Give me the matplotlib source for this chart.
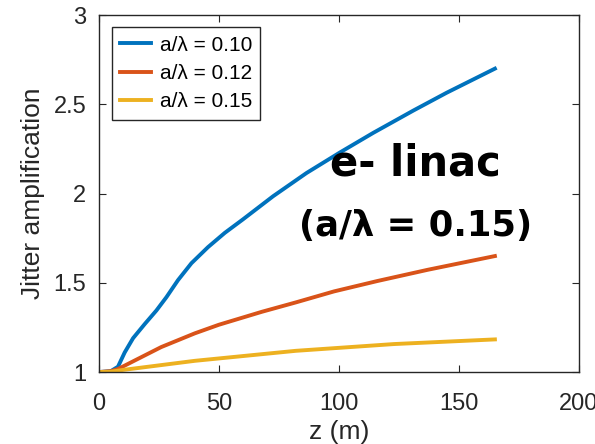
import matplotlib
matplotlib.use('Agg')
from matplotlib import pyplot as plt

# values
z_010 = [0, 5, 8, 10.8, 14.3, 19.2, 24, 28.2, 33, 38.6, 45.5, 52.5, 60, 72.6, 86.5,
         100.4, 114.3, 131, 144.9, 165]
amp_010 = [1.0, 1.005, 1.03, 1.11, 1.19, 1.27, 1.345, 1.42, 1.515, 1.61, 1.70, 1.78, 1.855,
           1.985, 2.115, 2.23, 2.34, 2.465, 2.565, 2.70]

z_012 = [0, 5, 8, 15, 26, 40, 50, 68, 82, 98, 116, 137, 165]
amp_012 = [1.0, 1.005, 1.017, 1.065, 1.14, 1.217, 1.265, 1.338, 1.39, 1.452, 1.51,
           1.573, 1.65]

z_015 = [0, 5, 9.5, 40, 82, 123, 165]
amp_015 = [1.0, 1.002, 1.011, 1.063, 1.119, 1.157, 1.183]

labels = ['a/\u03bb = 0.10', 'a/\u03bb = 0.12', 'a/\u03bb = 0.15']
colors = ['#0072BD', '#D95319', '#EDB120']

plt.rcParams['font.family'] = ['Liberation Sans', 'DejaVu Sans']

fig = plt.figure(figsize=(5.95, 4.44), dpi=100)
ax = fig.add_axes([0.166, 0.162, 0.807, 0.804])

ax.plot(z_010, amp_010, color=colors[0], lw=2.8, label=labels[0])
ax.plot(z_012, amp_012, color=colors[1], lw=2.8, label=labels[1])
ax.plot(z_015, amp_015, color=colors[2], lw=2.8, label=labels[2])

ax.set_xlim(0, 200)
ax.set_ylim(1, 3)
ax.set_xticks([0, 50, 100, 150, 200])
ax.set_yticks([1, 1.5, 2, 2.5, 3])
ax.set_yticklabels(['1', '1.5', '2', '2.5', '3'])
ax.tick_params(direction='in', length=5, width=0.8, colors='#262626',
               labelsize=17, top=True, right=True)
ax.tick_params(axis='x', pad=15)
ax.tick_params(axis='y', pad=9)
for s in ax.spines.values():
    s.set_color('#262626')
    s.set_linewidth(1.0)

ax.set_xlabel('z (m)', fontsize=19, color='#262626', labelpad=4)
ax.set_ylabel('Jitter amplification', fontsize=19, color='#262626', labelpad=6)

leg = ax.legend(loc='upper left', bbox_to_anchor=(0.027, 0.966), borderaxespad=0,
                fontsize=15, handlelength=1.5, handletextpad=0.4, labelspacing=0.45,
                fancybox=False, framealpha=1, borderpad=0.4)
leg.get_frame().set_edgecolor('#262626')
leg.get_frame().set_linewidth(1.0)

ax.text(132, 2.17, 'e- linac', fontsize=30, fontweight='bold', ha='center', va='center',
        family='DejaVu Sans')
ax.text(132, 1.82, '(a/\u03bb = 0.15)', fontsize=25.5, fontweight='bold', ha='center',
        va='center', family='DejaVu Sans')

fig.savefig('out.png', dpi=100)
